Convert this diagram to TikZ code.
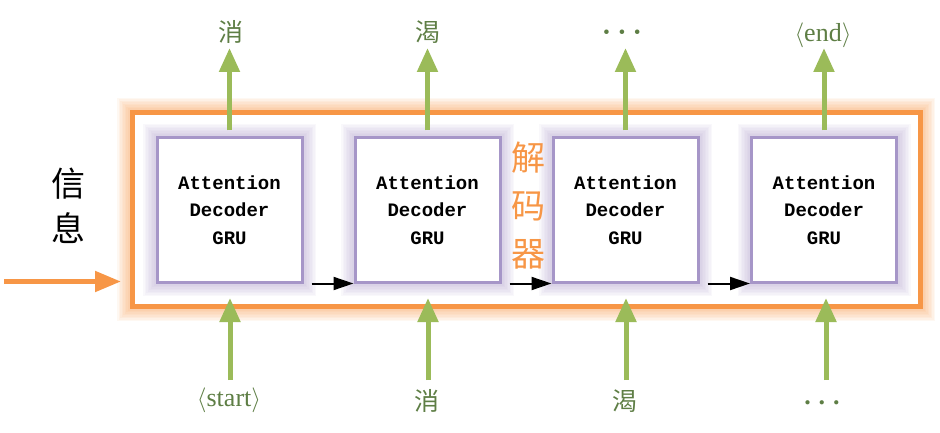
\documentclass[tikz,border=0pt]{standalone}
\usepackage{fontspec}
\setmainfont{Liberation Serif}
\newfontfamily\cjk{Noto Sans CJK SC}
\newfontfamily\boxfont{Liberation Mono}
\usetikzlibrary{arrows.meta}
\definecolor{orng}{HTML}{F79646}
\definecolor{purp}{HTML}{A696C8}
\definecolor{grn}{HTML}{9BBB59}
\definecolor{grntext}{HTML}{5E7E45}
\tikzset{
  decbox/.style={draw=purp, line width=3pt, fill=white, minimum width=145pt, minimum height=144pt, inner sep=0pt,
    align=center, font=\boxfont\bfseries\fontsize{19}{27.5}\selectfont},
  greenarrow/.style={draw=grn, line width=5pt, -{Triangle[length=24pt,width=20pt]}},
  blackarrow/.style={draw=black, line width=2pt, -{Triangle[length=20pt,width=13pt]}},
  orangearrow/.style={draw=orng, line width=5pt, -{Triangle[length=26pt,width=20pt]}},
  lbl/.style={text=grntext, font=\fontsize{26}{30}\selectfont, inner sep=0pt},
  cjklbl/.style={text=grntext, font=\cjk\fontsize{25}{30}\selectfont, inner sep=0pt},
}
\begin{document}
\begin{tikzpicture}[x=1pt,y=-1pt]
\useasboundingbox (0,0) rectangle (940,433);
% orange glow (outside only)
\foreach \w in {30,27,24,21,18,15,12,9}{
  \draw[orng, line width=\w pt, opacity=0.07] (132,113) rectangle (920,306);
}
\fill[white] (132,113) rectangle (920,306);
\node[draw=orng, line width=5pt, minimum width=788pt, minimum height=193pt, inner sep=0pt] (frame) at (526,209.5) {};
% purple glows
\foreach \cx in {229.5,427.5,625.5,824}{
  \foreach \w in {28,25,22,19,16,13,10,7}{
    \draw[purp, line width=\w pt, opacity=0.06] (\cx-72.5,138) rectangle (\cx+72.5,282);
  }
}
\node[decbox] (b1) at (229.5,210) {Attention\\Decoder\\GRU};
\node[decbox] (b2) at (427.5,210) {Attention\\Decoder\\GRU};
\node[decbox] (b3) at (625.5,210) {Attention\\Decoder\\GRU};
\node[decbox] (b4) at (824,210) {Attention\\Decoder\\GRU};
% black arrows
\draw[blackarrow] ([xshift=8pt]b1.south east) -- (b2.south west);
\draw[blackarrow] ([xshift=8pt]b2.south east) -- (b3.south west);
\draw[blackarrow] ([xshift=8pt]b3.south east) -- (b4.south west);
% top labels
\node[cjklbl] (t1) at (231,32) {消};
\node[cjklbl] (t2) at (428,32) {渴};
\node[text=grntext, font=\bfseries\fontsize{28}{30}\selectfont, inner sep=0pt] (t3) at (622,36) {·\hspace{6pt}·\hspace{6pt}·};
\node[lbl] (t4) at (823,35) {$\langle$end$\rangle$};
% bottom labels
\node[lbl] (s1) at (229,400) {$\langle$start$\rangle$};
\node[cjklbl] (s2) at (427,401) {消};
\node[cjklbl] (s3) at (625,401) {渴};
\node[lbl] (s4) at (822,403) {\bfseries.\hspace{8pt}.\hspace{8pt}.};
% green arrows top
\draw[greenarrow] ([yshift=6pt]b1.north) -- (b1.north|-0,48);
\draw[greenarrow] ([yshift=6pt]b2.north) -- (b2.north|-0,48);
\draw[greenarrow] ([yshift=6pt]b3.north) -- (b3.north|-0,48);
\draw[greenarrow] ([yshift=6pt]b4.north) -- (b4.north|-0,48);
% green arrows bottom
\coordinate (u1) at (230,380);
\coordinate (u2) at (428,380);
\coordinate (u3) at (626,380);
\coordinate (u4) at (826,380);
\draw[greenarrow] (u1) -- (u1|-0,298);
\draw[greenarrow] (u2) -- (u2|-0,298);
\draw[greenarrow] (u3) -- (u3|-0,298);
\draw[greenarrow] (u4) -- (u4|-0,298);
% input
\node[font=\cjk\fontsize{34}{45}\selectfont, align=center, inner sep=0pt] (info) at (68,206) {信\\息};
\coordinate (in) at (4,281.5);
\draw[orangearrow] (in) -- (121,281.5);
% decoder label
\node[text=orng, font=\cjk\fontsize{34}{48}\selectfont, align=center, inner sep=0pt] (dec) at (528,206) {解\\码\\器};
\end{tikzpicture}
\end{document}
